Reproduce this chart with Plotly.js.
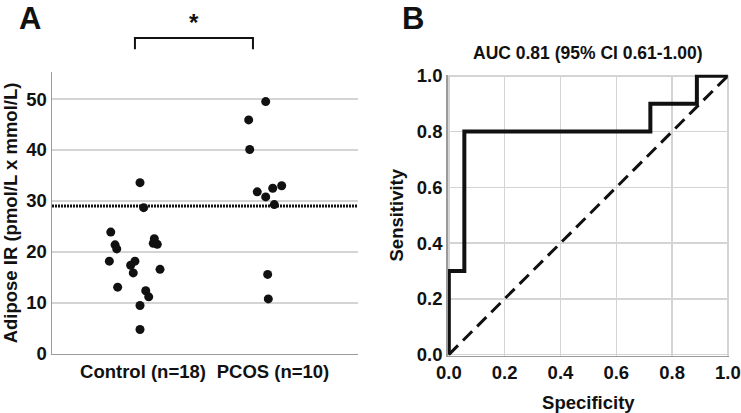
<!DOCTYPE html>
<html>
<head>
<meta charset="utf-8">
<script src="https://cdn.plot.ly/plotly-3.0.1.min.js"></script>
<style>html,body{margin:0;padding:0;background:#fff;}#chart{width:741px;height:413px;}</style>
</head>
<body>
<div id="chart"></div>
<script>
// ---------- Panel A data ----------
const groupLabels = ["Control (n=18)", "PCOS (n=10)"];
const groupPos = [0, 1];
const controlValues = [33.6, 28.7, 23.9, 21.4, 20.6, 22.6, 21.7, 21.5, 18.2, 18.2, 17.4, 15.9, 16.6, 13.1, 12.4, 11.2, 9.5, 4.8];
const controlJitter = [-0.023, 0.005, -0.248, -0.215, -0.202, 0.087, 0.079, 0.110, -0.259, -0.062, -0.095, -0.075, 0.131, -0.195, 0.021, 0.044, -0.023, -0.023];
const pcosValues = [49.5, 45.9, 40.1, 31.8, 30.8, 32.5, 33.0, 29.3, 15.6, 10.8];
const pcosJitter = [-0.056, -0.187, -0.179, -0.121, -0.056, -0.002, 0.067, 0.010, -0.041, -0.036];
const cutoffValue = 29.0;
const yTicksA = [0, 10, 20, 30, 40, 50];

// ---------- Panel B data ----------
const rocX = [0, 0, 0.0556, 0.0556, 0.7222, 0.7222, 0.8889, 0.8889, 1];
const rocY = [0, 0.3, 0.3, 0.8, 0.8, 0.9, 0.9, 1.0, 1.0];
const refX = [0, 1];
const refY = [0, 1];
const ticksB = [0, 0.2, 0.4, 0.6, 0.8, 1.0];
const ticksBText = ["0.0", "0.2", "0.4", "0.6", "0.8", "1.0"];
const aucTitle = "AUC 0.81 (95% CI 0.61-1.00)";

const FONT = "Liberation Sans, Arial, sans-serif";
const dotColor = "#111111";

const traces = [
  {
    x: controlValues.map((v, i) => groupPos[0] + controlJitter[i]),
    y: controlValues,
    type: "scatter", mode: "markers",
    marker: {color: dotColor, size: 9},
    xaxis: "x", yaxis: "y", showlegend: false, hoverinfo: "y"
  },
  {
    x: pcosValues.map((v, i) => groupPos[1] + pcosJitter[i]),
    y: pcosValues,
    type: "scatter", mode: "markers",
    marker: {color: dotColor, size: 9},
    xaxis: "x", yaxis: "y", showlegend: false, hoverinfo: "y"
  },
  {
    x: refX, y: refY, type: "scatter", mode: "lines",
    line: {color: "#111111", width: 3, dash: "13px,7px"},
    xaxis: "x2", yaxis: "y2", showlegend: false, hoverinfo: "skip"
  },
  {
    x: rocX, y: rocY, type: "scatter", mode: "lines",
    line: {color: "#111111", width: 4, shape: "linear"},
    xaxis: "x2", yaxis: "y2", showlegend: false, hoverinfo: "x+y"
  }
];

const tickFont = {family: FONT, size: 18.5, color: "#111111", weight: "bold"};
const titleFont = {family: FONT, size: 18.5, color: "#111111", weight: "bold"};

const layout = {
  width: 741, height: 413,
  margin: {l: 0, r: 0, t: 0, b: 0},
  paper_bgcolor: "#ffffff", plot_bgcolor: "#ffffff",
  font: {family: FONT, color: "#111111"},
  showlegend: false,
  xaxis: {
    domain: [0.0702, 0.4831],
    range: [-0.7, 1.654],
    tickvals: groupPos, ticktext: groupLabels,
    showgrid: false, zeroline: false,
    showline: true, linecolor: "#9a9a9a", linewidth: 1.5,
    ticks: "", tickfont: tickFont, fixedrange: true
  },
  yaxis: {
    domain: [0.1429, 0.8257],
    range: [0, 55.3],
    tickvals: yTicksA,
    showgrid: true, gridcolor: "#d4d4d4", gridwidth: 1.5,
    zeroline: false,
    showline: true, linecolor: "#9a9a9a", linewidth: 1.5,
    ticks: "", tickfont: tickFont,
    title: {text: "Adipose IR (pmol/L x mmol/L)", font: titleFont, standoff: 8}
  },
  xaxis2: {
    domain: [0.6042, 0.9838],
    range: [-0.004, 1.004],
    tickvals: ticksB, ticktext: ticksBText,
    showgrid: true, gridcolor: "#d4d4d4", gridwidth: 1.5,
    zeroline: false,
    showline: true, linecolor: "#9a9a9a", linewidth: 1.5,
    ticks: "", tickfont: tickFont,
    anchor: "y2",
    title: {text: "Specificity", font: titleFont, standoff: 14}
  },
  yaxis2: {
    domain: [0.1387, 0.8191],
    range: [-0.004, 1.004],
    tickvals: ticksB, ticktext: ticksBText,
    showgrid: true, gridcolor: "#d4d4d4", gridwidth: 1.5,
    zeroline: false,
    showline: true, linecolor: "#9a9a9a", linewidth: 1.5,
    ticks: "", tickfont: tickFont,
    anchor: "x2",
    title: {text: "Sensitivity", font: titleFont, standoff: 8}
  },
  shapes: [
    {
      type: "line", xref: "x domain", yref: "y",
      x0: 0, x1: 1, y0: cutoffValue, y1: cutoffValue,
      line: {color: "#111111", width: 3, dash: "2px,1px"}
    },
    {
      type: "path", xref: "x", yref: "paper",
      path: "M -0.062,0.881 L -0.062,0.908 L 0.846,0.908 L 0.846,0.881",
      line: {color: "#111111", width: 2}
    }
  ],
  annotations: [
    {text: "A", x: 0.041, y: 0.955, xref: "paper", yref: "paper", showarrow: false,
     xanchor: "center", yanchor: "middle", font: {family: FONT, size: 31, weight: "bold", color: "#111111"}},
    {text: "B", x: 0.557, y: 0.955, xref: "paper", yref: "paper", showarrow: false,
     xanchor: "center", yanchor: "middle", font: {family: FONT, size: 31, weight: "bold", color: "#111111"}},
    {text: "*", x: 0.392, y: 0.945, xref: "x", yref: "paper", showarrow: false,
     xanchor: "center", yanchor: "middle", font: {family: FONT, size: 24, weight: "bold", color: "#111111"}},
    {text: aucTitle, x: 0.5, y: 0.872, xref: "x2 domain", yref: "paper", showarrow: false,
     xanchor: "center", yanchor: "middle", font: {family: FONT, size: 17.5, weight: "bold", color: "#111111"}}
  ]
};

Plotly.newPlot("chart", traces, layout, {displayModeBar: false, staticPlot: true});
</script>
</body>
</html>
